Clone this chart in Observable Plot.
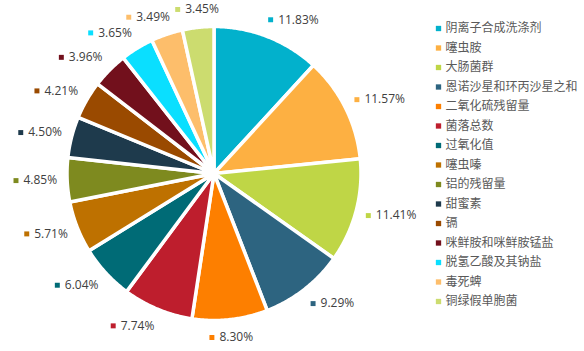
<!DOCTYPE html>
<html><head><meta charset="utf-8">
<script src="https://cdn.jsdelivr.net/npm/d3@7"></script>
<script src="https://cdn.jsdelivr.net/npm/@observablehq/plot@0.6"></script>
<style>body{margin:0;background:#fff}</style>
</head><body><div id="chart"></div>
<script>
const categories = ["阴离子合成洗涤剂","噻虫胺","大肠菌群","恩诺沙星和环丙沙星之和","二氧化硫残留量","菌落总数","过氧化值","噻虫嗪","铝的残留量","甜蜜素","镉","咪鲜胺和咪鲜胺锰盐","脱氢乙酸及其钠盐","毒死蜱","铜绿假单胞菌"];
const values = [11.83,11.57,11.41,9.29,8.30,7.74,6.04,5.71,4.85,4.50,4.21,3.96,3.65,3.49,3.45];
const colors = ["#02B1CC","#FDB042","#BFD646","#2D6480","#FD7F00","#BE1E2D","#006B76","#BE7100","#7E8A1F","#1E3A4C","#9A4A00","#72101C","#0ADFFF","#FDBE6B","#CCDC6F"];

const W = 584, H = 351, cx = 213.5, cy = 173, R = 147;
const arcs = d3.pie().sort(null).value(d => d)(values);

const slicePts = [];
arcs.forEach((a, i) => {
  const name = categories[i];
  slicePts.push({name, x: cx, y: cy});
  const n = Math.max(2, Math.ceil((a.endAngle - a.startAngle) / (Math.PI / 360)));
  for (let k = 0; k <= n; k++) {
    const t = a.startAngle + (a.endAngle - a.startAngle) * k / n;
    slicePts.push({name, x: cx + R * Math.sin(t), y: cy - R * Math.cos(t)});
  }
});

const ctx = document.createElement("canvas").getContext("2d");
ctx.font = "12px 'Open Sans'";
const labels = arcs.map((a, i) => {
  const text = values[i].toFixed(2) + "%";
  const tw = ctx.measureText(text).width;
  const w = 10 + tw;
  const th = (a.startAngle + a.endAngle) / 2;
  const s = Math.sin(th), c = Math.cos(th);
  const fromVert = Math.asin(Math.abs(s)) * 180 / Math.PI;
  const f = Math.max(0, Math.min(1, (fromVert - 8) / 15));
  const bx = cx + 157 * s + Math.sign(s) * f * w / 2;
  const by = cy - 165 * c;
  return {name: categories[i], text, mx: bx - w / 2 + 2.5, tx: bx - w / 2 + 10, y: by};
});

const legend = categories.map((name, i) => ({name, x: 438, tx: 445, y: 28 + i * 19.5}));

const chart = Plot.plot({
  width: W, height: H,
  margin: 0,
  x: {type: "linear", domain: [0, W], range: [0, W], axis: null},
  y: {type: "linear", domain: [0, H], range: [0, H], axis: null},
  color: {domain: categories, range: colors},
  style: {background: "#fff"},
  marks: [
    Plot.line(slicePts, {x: "x", y: "y", z: "name", fill: "name", stroke: "white", strokeWidth: 3.5, strokeLinejoin: "round", curve: "linear-closed"}),
    Plot.dot(labels, {x: "mx", y: "y", symbol: "square", r: 2.8, fill: "name"}),
    Plot.text(labels, {x: "tx", y: "y", text: "text", textAnchor: "start", fontSize: 12, fill: "#404040", fontFamily: "'Open Sans', sans-serif"}),
    Plot.dot(legend, {x: "x", y: "y", symbol: "square", r: 3, fill: "name"}),
    Plot.text(legend, {x: "tx", y: "y", text: "name", textAnchor: "start", fontSize: 12, fill: "#595959", fontFamily: "'Noto Sans CJK SC', sans-serif"})
  ]
});
document.getElementById("chart").appendChild(chart);
</script>
</body></html>
